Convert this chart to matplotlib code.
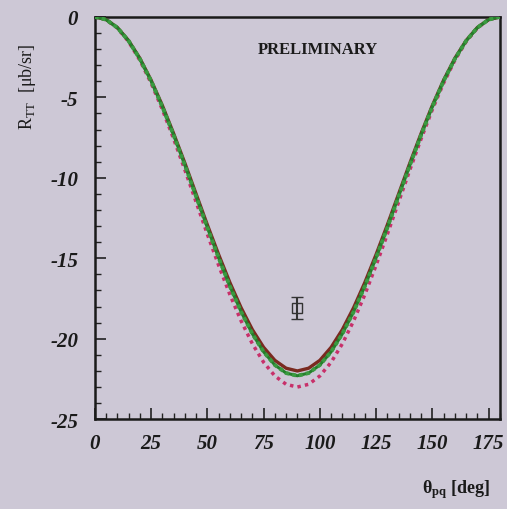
import matplotlib.pyplot as plt
from matplotlib.ticker import MultipleLocator

plt.rcParams['axes.unicode_minus'] = False
plt.rcParams['mathtext.fontset'] = 'custom'
plt.rcParams['mathtext.rm'] = 'Liberation Serif'
plt.rcParams['mathtext.bf'] = 'Liberation Serif:bold'

# angles (deg) and curve values
theta = [0, 5, 10, 15, 20, 25, 30, 35, 40, 45, 50, 55, 60, 65, 70, 75, 80, 85, 90,
         95, 100, 105, 110, 115, 120, 125, 130, 135, 140, 145, 150, 155, 160, 165, 170, 175, 180]
r_red = [0, -0.17, -0.66, -1.47, -2.57, -3.93, -5.5, -7.24, -9.08, -11.0, -12.92, -14.76,
         -16.5, -18.07, -19.43, -20.53, -21.34, -21.83, -22.0,
         -21.83, -21.34, -20.53, -19.43, -18.07, -16.5, -14.76, -12.92, -11.0, -9.08,
         -7.24, -5.5, -3.93, -2.57, -1.47, -0.66, -0.17, 0]
r_green = [0, -0.17, -0.67, -1.49, -2.61, -3.98, -5.58, -7.34, -9.21, -11.15, -13.09, -14.96,
           -16.73, -18.32, -19.69, -20.81, -21.63, -22.13, -22.3,
           -22.13, -21.63, -20.81, -19.69, -18.32, -16.73, -14.96, -13.09, -11.15, -9.21,
           -7.34, -5.58, -3.98, -2.61, -1.49, -0.67, -0.17, 0]
r_magenta = [0, -0.17, -0.69, -1.54, -2.69, -4.11, -5.75, -7.57, -9.5, -11.5, -13.5, -15.43,
             -17.25, -18.89, -20.31, -21.46, -22.31, -22.83, -23.0,
             -22.83, -22.31, -21.46, -20.31, -18.89, -17.25, -15.43, -13.5, -11.5, -9.5,
             -7.57, -5.75, -4.11, -2.69, -1.54, -0.69, -0.17, 0]

# measured point
pt_theta = [90]
pt_r = [-18.1]
pt_err = [0.7]

bg = '#cdc8d6'
fig = plt.figure(figsize=(5.07, 5.10), dpi=100, facecolor=bg)
ax = fig.add_axes([0.187, 0.176, 0.799, 0.789], facecolor=bg)

ax.plot(theta, r_magenta, color='#c8306a', lw=2.5, ls=(0, (1, 1.2)), zorder=2)
ax.plot(theta, r_red, color='#7a2a20', lw=2.4, zorder=3)
ax.plot(theta, r_green, color='#257f2c', lw=2.2, zorder=4)
ax.plot(theta, r_green, color='#3a9a40', lw=2.8, ls=(0, (1, 0.8)), zorder=4)

ax.errorbar(pt_theta, pt_r, yerr=pt_err, fmt='s', mfc='none', mec='#333333',
            ecolor='#333333', ms=6.5, mew=1, capsize=4, zorder=5)

ax.set_xlim(0, 180)
ax.set_ylim(-25, 0)
ax.xaxis.set_major_locator(MultipleLocator(25))
ax.xaxis.set_minor_locator(MultipleLocator(5))
ax.yaxis.set_major_locator(MultipleLocator(5))
ax.yaxis.set_minor_locator(MultipleLocator(1))
ax.tick_params(which='major', direction='in', length=8, width=1.2, color='#222222')
ax.tick_params(which='minor', direction='in', length=4, width=1, color='#222222')
ax.tick_params(axis='x', which='major', pad=10)
ax.tick_params(axis='y', which='major', pad=12)

for lab in ax.get_xticklabels() + ax.get_yticklabels():
    lab.set_fontfamily('Liberation Serif')
    lab.set_fontstyle('italic')
    lab.set_fontweight('bold')
    lab.set_fontsize(15)
    lab.set_color('#1a1a1a')

for s in ax.spines.values():
    s.set_linewidth(1.8)
    s.set_color('#1a1a1a')

ax.text(0.55, 0.92, 'PRELIMINARY', transform=ax.transAxes, ha='center', va='center',
        fontfamily='Liberation Serif', fontweight='bold', fontsize=12, color='#1a1a1a')

fig.text(0.055, 0.83, r'R$_{\mathrm{TT}}$  [μb/sr]', rotation=90, ha='center', va='center',
         fontfamily='Liberation Serif', fontsize=13, color='#1a1a1a')
fig.text(0.9, 0.04, r'$\mathbf{θ_{pq}}$ [deg]', ha='center', va='center',
         fontfamily='Liberation Serif', fontweight='bold', fontsize=13, color='#1a1a1a')

fig.savefig('out.png', dpi=100, facecolor=bg)
